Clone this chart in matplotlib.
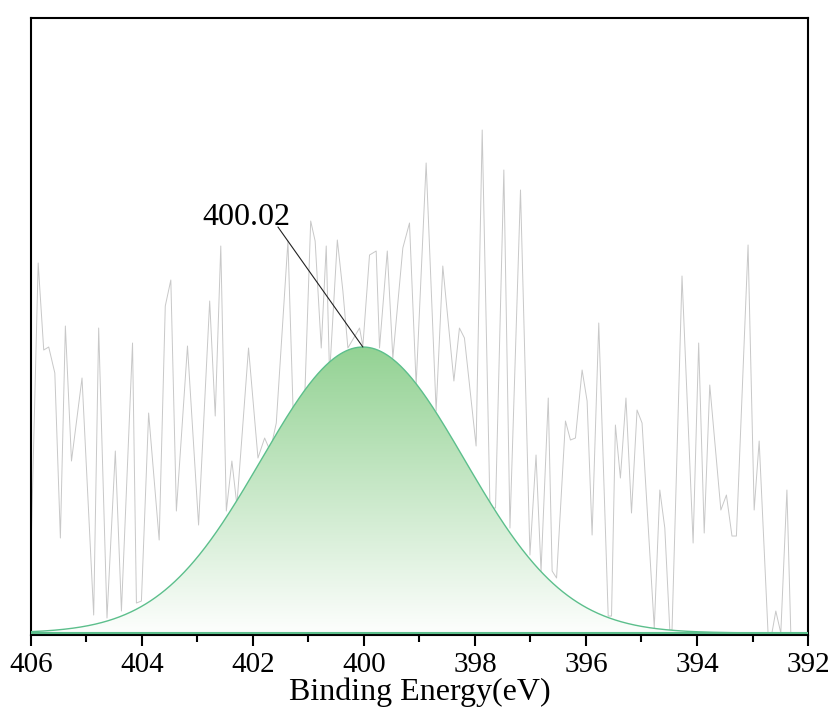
import matplotlib
matplotlib.use('Agg')
import matplotlib.pyplot as plt
import numpy as np
from matplotlib.colors import LinearSegmentedColormap
from matplotlib.ticker import MultipleLocator

plt.rcParams['font.family'] = ['Liberation Serif', 'DejaVu Serif']

# N 1s raw spectrum (background subtracted)
be = [406.00, 405.87, 405.77, 405.68, 405.57, 405.47, 405.38, 405.27, 405.08, 404.87,
      404.78, 404.63, 404.48, 404.37, 404.17, 404.10, 404.01, 403.88, 403.69, 403.58,
      403.48, 403.38, 403.18, 402.98, 402.78, 402.68, 402.58, 402.48, 402.38, 402.29,
      402.08, 401.91, 401.79, 401.69, 401.58, 401.37, 401.24, 401.08, 400.96, 400.88,
      400.77, 400.68, 400.62, 400.48, 400.38, 400.29, 400.08, 400.02, 399.90, 399.78,
      399.72, 399.58, 399.48, 399.30, 399.18, 399.06, 398.88, 398.70, 398.58, 398.38,
      398.28, 398.19, 397.98, 397.87, 397.73, 397.63, 397.48, 397.37, 397.18, 397.01,
      396.90, 396.81, 396.68, 396.61, 396.53, 396.37, 396.28, 396.19, 396.07, 395.98,
      395.89, 395.77, 395.60, 395.54, 395.47, 395.38, 395.28, 395.18, 395.08, 394.99,
      394.77, 394.67, 394.58, 394.49, 394.45, 394.27, 394.07, 393.97, 393.87, 393.77,
      393.57, 393.47, 393.37, 393.29, 393.08, 392.97, 392.88, 392.72, 392.65, 392.58,
      392.49, 392.38, 392.31, 392.00]
counts = [80, 370, 283, 286, 260, 95, 307, 172, 255, 18,
          305, 15, 182, 22, 290, 30, 32, 220, 93, 327,
          353, 122, 287, 108, 332, 217, 387, 122, 172, 128,
          285, 175, 195, 182, 210, 392, 155, 215, 412, 392,
          285, 387, 258, 393, 342, 285, 305, 287, 378, 382,
          285, 382, 275, 385, 410, 248, 470, 222, 367, 252,
          305, 295, 187, 503, 125, 125, 463, 105, 443, 78,
          178, 62, 235, 62, 55, 212, 193, 195, 263, 232,
          98, 310, 17, 17, 208, 155, 235, 120, 223, 210,
          5, 143, 105, 3, 3, 357, 90, 290, 100, 248,
          123, 138, 97, 97, 388, 123, 192, 0, 0, 22,
          0, 143, 0, 0]

# fitted component
peak_center = 400.02
peak_height = 286
peak_sigma = 1.83

fig = plt.figure(figsize=(8.3, 7.28), dpi=100)
ax = fig.add_axes([0.0373, 0.1277, 0.9362, 0.8476])

ax.plot(be, counts, color='#c8c8c8', lw=0.7, zorder=1)

x = np.linspace(406, 392, 800)
y = peak_height * np.exp(-(x - peak_center) ** 2 / (2 * peak_sigma ** 2))
poly = ax.fill_between(x, 0, y, facecolor='none', edgecolor='none', zorder=2)
cmap = LinearSegmentedColormap.from_list('g', ['#fdfefd', '#93d293'])
grad = np.linspace(0, 1, 256).reshape(-1, 1)
im = ax.imshow(grad, cmap=cmap, aspect='auto', origin='lower',
               extent=[406, 392, 0, peak_height], zorder=2, interpolation='bilinear')
im.set_clip_path(poly.get_paths()[0], transform=ax.transData)
ax.plot(x, y, color='#5cbf8c', lw=1.0, zorder=3)
ax.plot([406, 392], [0, 0], color='#5cbf8c', lw=1.5, zorder=3)

ax.annotate('', xy=(peak_center, peak_height), xytext=(401.55, 406),
            arrowprops=dict(arrowstyle='-', color='#222222', lw=0.8, shrinkA=0, shrinkB=0))
ax.text(401.33, 408, '400.02', fontsize=23, ha='right', va='baseline')

ax.set_xlim(406, 392)
ax.set_ylim(-2, 615)
ax.set_aspect('auto')
ax.xaxis.set_major_locator(MultipleLocator(2))
ax.xaxis.set_minor_locator(MultipleLocator(1))
ax.set_yticks([])
ax.tick_params(axis='x', which='major', direction='out', length=8, width=1.5, labelsize=21, pad=4)
ax.tick_params(axis='x', which='minor', direction='out', length=5, width=1.5)
for s in ax.spines.values():
    s.set_linewidth(1.5)
ax.set_xlabel('Binding Energy(eV)', fontsize=23, labelpad=0)

fig.savefig('out.png', dpi=100)
